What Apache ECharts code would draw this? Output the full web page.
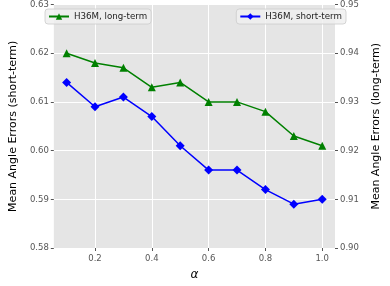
<!DOCTYPE html>
<html><head><meta charset="utf-8">
<script src="https://cdn.jsdelivr.net/npm/echarts@6/dist/echarts.min.js"></script>
<style>html,body{margin:0;padding:0;background:#fff}#c{width:390px;height:286px}</style>
</head><body><div id="c"></div>
<script>
const alphas = [0.1,0.2,0.3,0.4,0.5,0.6,0.7,0.8,0.9,1.0];
const shortTerm = [0.614,0.609,0.611,0.607,0.601,0.596,0.596,0.592,0.589,0.590];
const longTerm = [0.940,0.938,0.937,0.933,0.934,0.930,0.930,0.928,0.923,0.921];
const xTicks = [0.2,0.4,0.6,0.8,1.0];
const font = 'DejaVu Sans';
const chart = echarts.init(document.getElementById('c'), null, {renderer:'canvas'});
const tickLabel = {color:'#555', fontSize:8.5, fontFamily:font};
chart.setOption({
  animation:false,
  backgroundColor:'#fff',
  grid:{left:40,right:43,top:4,bottom:28,show:true,backgroundColor:'#E5E5E5',borderWidth:0},
  legend:[
    {data:['H36M, long-term'],left:45,top:9,itemWidth:20,itemHeight:8,itemGap:5,padding:[3,4,3,3],
     backgroundColor:'rgba(240,240,240,0.85)',borderColor:'#ccc',borderWidth:0.8,borderRadius:3,
     textStyle:{fontFamily:font,fontSize:8.7,color:'#222'}},
    {data:['H36M, short-term'],right:44,top:9,itemWidth:20,itemHeight:8,itemGap:5,padding:[3,4,3,3],
     backgroundColor:'rgba(240,240,240,0.85)',borderColor:'#ccc',borderWidth:0.8,borderRadius:3,
     textStyle:{fontFamily:font,fontSize:8.7,color:'#222'}}
  ],
  xAxis:{type:'value',min:0.055,max:1.045,
    name:'α',nameLocation:'middle',nameGap:21,
    nameTextStyle:{fontFamily:font,fontSize:12,fontStyle:'italic',color:'#000'},
    axisLine:{show:false},
    axisTick:{show:true,length:3,lineStyle:{color:'#555'},customValues:xTicks},
    axisLabel:{...tickLabel,margin:6,customValues:xTicks,formatter:v=>v.toFixed(1)},
    splitLine:{show:true,lineStyle:{color:'#fff',width:1}}},
  yAxis:[
    {type:'value',min:0.58,max:0.63,interval:0.01,position:'left',
     name:'Mean Angle Errors (short-term)',nameLocation:'middle',nameGap:34,
     nameTextStyle:{fontFamily:font,fontSize:11,color:'#000'},
     axisLine:{show:false},axisTick:{show:true,length:3,lineStyle:{color:'#555'}},
     axisLabel:{...tickLabel,margin:5,formatter:v=>v.toFixed(2)},
     splitLine:{show:true,lineStyle:{color:'#fff',width:1}}},
    {type:'value',min:0.90,max:0.95,interval:0.01,position:'right',
     name:'Mean Angle Errors (long-term)',nameLocation:'middle',nameGap:36,nameRotate:90,
     nameTextStyle:{fontFamily:font,fontSize:11,color:'#000'},
     axisLine:{show:false},axisTick:{show:true,length:3,lineStyle:{color:'#555'}},
     axisLabel:{...tickLabel,margin:5,formatter:v=>v.toFixed(2)},
     splitLine:{show:false}}
  ],
  series:[
    {name:'H36M, long-term',type:'line',yAxisIndex:1,
     data:alphas.map((a,i)=>[a,longTerm[i]]),
     symbol:'triangle',symbolSize:8,color:'#008000',
     lineStyle:{width:1.5,color:'#008000'},itemStyle:{color:'#008000'}},
    {name:'H36M, short-term',type:'line',yAxisIndex:0,
     data:alphas.map((a,i)=>[a,shortTerm[i]]),
     symbol:'diamond',symbolSize:9,color:'#0000FF',
     lineStyle:{width:1.5,color:'#0000FF'},itemStyle:{color:'#0000FF'}}
  ]
});
</script></body></html>
